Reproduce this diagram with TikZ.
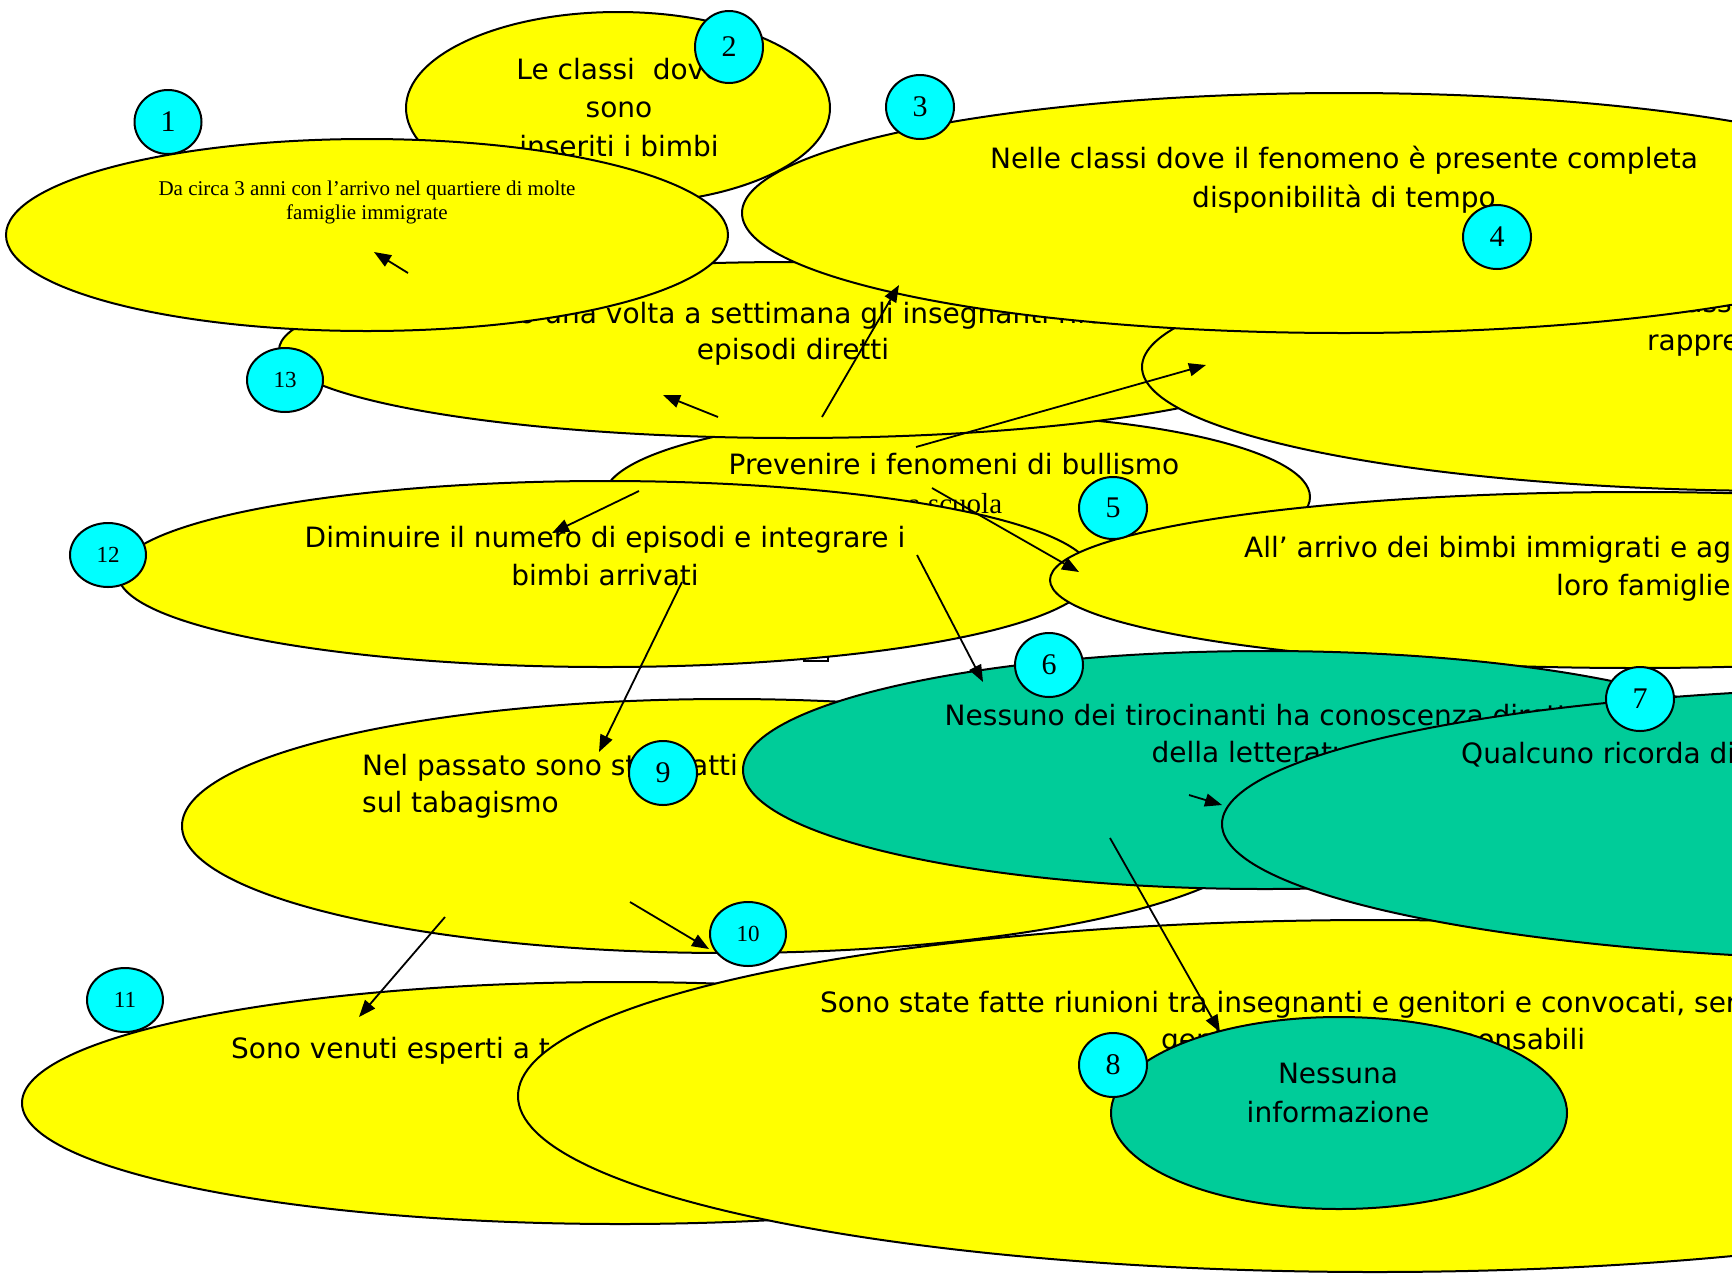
\documentclass[tikz,border=0pt]{standalone}
\usepackage{fontspec}
\setmainfont{DejaVu Sans}
\newfontfamily\tms{Liberation Serif}
\usetikzlibrary{shapes.geometric,arrows.meta}
\definecolor{tgreen}{RGB}{0,204,153}
\definecolor{tyellow}{RGB}{255,255,0}
\definecolor{tcyan}{RGB}{0,255,255}
\newcommand{\bigsans}{\fontsize{28pt}{38pt}\selectfont}
\tikzset{
  blob/.style={ellipse, draw=black, line width=2pt, inner sep=0pt},
  yel/.style={blob, fill=tyellow},
  grn/.style={blob, fill=tgreen},
  num/.style={blob, fill=tcyan, minimum width=68pt, minimum height=64pt,
    font=\tms\fontsize{30pt}{30pt}\selectfont},
  numS/.style={blob, fill=tcyan, minimum width=76pt, minimum height=64pt,
    font=\tms\fontsize{23pt}{23pt}\selectfont},
  txt/.style={anchor=base, inner sep=0pt, font=\bigsans},
  txtw/.style={anchor=base west, inner sep=0pt, font=\bigsans},
  arr/.style={line width=1.8pt, -{Triangle[length=17pt,width=13pt]}}
}
\begin{document}
\begin{tikzpicture}[x=1pt,y=-1pt]
\useasboundingbox (0,0) rectangle (1732,1275);
\fill[white] (0,0) rectangle (1732,1275);
\clip (0,0) rectangle (1732,1275);

% E5 Prevenire
\node[yel, minimum width=706pt, minimum height=166pt] (e5) at (957,497) {};
\node[txt] (t5a) at (954,474) {Prevenire i fenomeni di bullismo};
\node[txt, font=\tms\fontsize{29pt}{29pt}\selectfont] (t5b) at (955,513) {a scuola};

% E13
\node[yel, minimum width=1028pt, minimum height=176pt] (e13) at (793,350) {};
\node[txt] (t13a) at (800,323) {Almeno una volta a settimana gli insegnanti rilevano};
\node[txt] (t13b) at (793,359) {episodi diretti};

% E2
\node[yel, minimum width=424pt, minimum height=192pt] (e2) at (618,108) {};
\node[txt] (t2a) at (619,79) {Le classi\ \ dove};
\node[txt] (t2b) at (619,117) {sono};
\node[txt] (t2c) at (619,156) {inseriti i bimbi};

% E1
\node[yel, minimum width=722pt, minimum height=192pt] (e1) at (367,235) {};
\node[txt, font=\tms\fontsize{21pt}{24pt}\selectfont] (t1a) at (367,195) {Da circa 3 anni con l’arrivo nel quartiere di molte};
\node[txt, font=\tms\fontsize{21pt}{24pt}\selectfont] (t1b) at (367,219) {famiglie immigrate};

% E4
\node[yel, minimum width=1292pt, minimum height=248pt] (e4) at (1788,367) {};
\node[txtw] (t4a) at (1662,312) {classi};
\node[txtw] (t4b) at (1647,350) {rappre};

% E3
\node[yel, minimum width=1204pt, minimum height=240pt] (e3) at (1344,213) {};
\node[txt] (t3a) at (1344,168) {Nelle classi dove il fenomeno è presente completa};
\node[txt] (t3b) at (1344,207) {disponibilità di tempo};

% small mark
\draw[line width=1.5pt] (803,661) -- (828,661) -- (828,656);

% E12
\node[yel, minimum width=974pt, minimum height=186pt] (e12) at (605,574) {};
\node[txt] (t12a) at (605,547) {Diminuire il numero di episodi e integrare i};
\node[txt] (t12b) at (605,585) {bimbi arrivati};

% E All
\node[yel, minimum width=1170pt, minimum height=176pt] (eall) at (1635,580) {};
\node[txtw] (tall1) at (1244,557) {All’ arrivo dei bimbi immigrati e agli};
\node[txtw] (tall2) at (1556,595) {loro famiglie};

% E9
\node[yel, minimum width=1090pt, minimum height=254pt] (e9) at (727,826) {};
\node[txtw] (t9a) at (362,775) {Nel passato sono stati fatti};
\node[txtw] (t9b) at (362,812) {sul tabagismo};

% E11
\node[yel, minimum width=1196pt, minimum height=242pt] (e11) at (620,1103) {};
\node[txtw] (t11) at (231,1058) {Sono venuti esperti a t};

% E Sono
\node[yel, minimum width=1714pt, minimum height=352pt] (esono) at (1375,1096) {};
\node[txtw] (ts1) at (820,1012) {Sono state fatte riunioni tra insegnanti e genitori e convocati, ser};
\node[txt] (ts2) at (1373,1049) {genitori dei bimbi responsabili};

% E6
\node[grn, minimum width=1044pt, minimum height=238pt] (e6) at (1265,770) {};
\node[txt] (t6a) at (1265,725) {Nessuno dei tirocinanti ha conoscenza diretta};
\node[txt] (t6b) at (1265,762) {della letteratura};

% E7
\node[grn, minimum width=1446pt, minimum height=274pt] (e7) at (1945,824) {};
\node[txtw] (t7) at (1461,763) {Qualcuno ricorda di};

% E8
\node[grn, minimum width=456pt, minimum height=192pt] (e8) at (1339,1113) {};
\node[txt] (t8a) at (1338,1083) {Nessuna};
\node[txt] (t8b) at (1338,1122) {informazione};

% number badges
\node[num, minimum width=67pt] (c1) at (168,122) {1};
\node[num, minimum height=72pt] (c2) at (729,47) {2};
\node[num] (c3) at (920,107) {3};
\node[num] (c4) at (1497,237) {4};
\node[num, minimum height=62pt] (c5) at (1113,508) {5};
\node[num] (c6) at (1049,665) {6};
\node[num] (c7) at (1640,699) {7};
\node[num] (c8) at (1113,1065) {8};
\node[num] (c9) at (663,773) {9};
\node[numS] (c10) at (748,934) {10};
\node[numS] (c11) at (125,1000) {11};
\node[numS] (c12) at (108,555) {12};
\node[numS] (c13) at (285,380) {13};

% arrows
\coordinate (s1) at (408,273);  \coordinate (h1) at (374,252);
\coordinate (s2) at (718,417);  \coordinate (h2) at (663,395);
\coordinate (s3) at (822,417);  \coordinate (h3) at (899,285);
\coordinate (s4) at (916,447);  \coordinate (h4) at (1206,365);
\coordinate (s5) at (932,488);  \coordinate (h5) at (1079,572);
\coordinate (s6) at (639,491);  \coordinate (h6) at (552,533);
\coordinate (s7) at (682,582);  \coordinate (h7) at (599,752);
\coordinate (s8) at (917,555);  \coordinate (h8) at (983,682);
\coordinate (s9) at (1189,795); \coordinate (h9) at (1222,805);
\coordinate (s10) at (1110,838); \coordinate (h10) at (1220,1032);
\coordinate (s11) at (445,917); \coordinate (h11) at (359,1017);
\coordinate (s12) at (630,902); \coordinate (h12) at (709,949);
\foreach \i in {1,...,12} \draw[arr] (s\i) -- (h\i);
\end{tikzpicture}
\end{document}
